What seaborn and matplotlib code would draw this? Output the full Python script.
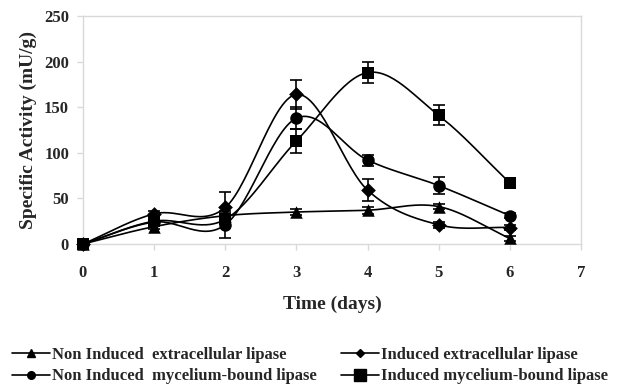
import numpy as np
import pandas as pd
import matplotlib
matplotlib.use("Agg")
import matplotlib.pyplot as plt
import seaborn as sns
from matplotlib.lines import Line2D

days = [0, 1, 2, 3, 4, 5, 6]
non_ind_extra = [0, 19, 31, 35, 37, 41, 6]
non_ind_extra_err = [0, 3, 3, 3, 4, 3, 3]
ind_extra = [0, 33, 40, 164, 59, 21, 18]
ind_extra_err = [0, 3, 17, 16, 12, 3, 3]
non_ind_myc = [0, 24, 21, 138, 92, 64, 31]
non_ind_myc_err = [0, 3, 15, 12, 6, 9, 3]
ind_myc = [0, 25, 27, 113, 188, 141, 67]
ind_myc_err = [0, 3, 3, 13, 12, 11, 3]

series_names = ["Non Induced  extracellular lipase", "Induced extracellular lipase",
                "Non Induced  mycelium-bound lipase", "Induced mycelium-bound lipase"]
x_ticks = [0, 1, 2, 3, 4, 5, 6, 7]
y_ticks = [0, 50, 100, 150, 200, 250]

sns.set_theme(style="white")
plt.rcParams['font.family'] = ['Liberation Serif', 'DejaVu Serif']
plt.rcParams['font.weight'] = 'bold'

fig = plt.figure(figsize=(6.17, 3.86), dpi=100)
ax = fig.add_axes([0.1345, 0.368, 0.8072, 0.5905])


def smooth(x, y, n=30):
    # Catmull-Rom style smoothing like spreadsheet "smoothed line"
    x = np.asarray(x, float); y = np.asarray(y, float)
    P = np.column_stack([x, y])
    P = np.vstack([P[0] - (P[1] - P[0]), P, P[-1] + (P[-1] - P[-2])])
    out = []
    for i in range(1, len(P) - 2):
        p0, p1, p2, p3 = P[i - 1], P[i], P[i + 1], P[i + 2]
        t = np.linspace(0, 1, n, endpoint=False)[:, None]
        m1 = (p2 - p0) / 2
        m2 = (p3 - p1) / 2
        h00 = 2 * t**3 - 3 * t**2 + 1
        h10 = t**3 - 2 * t**2 + t
        h01 = -2 * t**3 + 3 * t**2
        h11 = t**3 - t**2
        out.append(h00 * p1 + h10 * m1 + h01 * p2 + h11 * m2)
    out.append(P[-2][None, :])
    o = np.vstack(out)
    return o[:, 0], o[:, 1]


# (values, errors, marker, plot size, legend size)
data = [(non_ind_extra, non_ind_extra_err, "^", 9, 6),
        (ind_extra, ind_extra_err, "D", 7.5, 4.5),
        (non_ind_myc, non_ind_myc_err, "o", 9, 5.5),
        (ind_myc, ind_myc_err, "s", 8.5, 8)]

for (vals, errs, mk, ms, _), name in zip(data, series_names):
    sx, sy = smooth(days, vals)
    ax.plot(sx, sy, color="black", lw=1.2, zorder=2, clip_on=False)
    ax.errorbar(days, vals, yerr=errs, fmt="none", ecolor="black", elinewidth=1.2,
                capsize=4, capthick=1.2, zorder=3, clip_on=False)
    df = pd.DataFrame({"day": days, "val": vals})
    sns.scatterplot(data=df, x="day", y="val", marker=mk, s=ms**2, color="black",
                    edgecolor="black", linewidth=0, ax=ax, zorder=4, legend=False,
                    clip_on=False)

ax.set_xlim(0, 7)
ax.set_ylim(0, 250)
ax.set_xticks(x_ticks)
ax.set_yticks(y_ticks)
ax.set_xticklabels([str(t) for t in x_ticks], fontsize=12, fontweight='bold')
ax.set_yticklabels([str(t) for t in y_ticks], fontsize=12, fontweight='bold')
ax.set_xlabel("Time (days)", fontsize=14, fontweight='bold', labelpad=11)
ax.set_ylabel("Specific Activity (mU/g)", fontsize=14, fontweight='bold', labelpad=5)
for s in ax.spines.values():
    s.set_color("#d9d9d9")
    s.set_linewidth(1.0)
ax.tick_params(axis='x', which='both', bottom=True, length=4, width=1, color="#d9d9d9", pad=11)
ax.tick_params(axis='y', which='both', left=True, length=4, width=1, color="#d9d9d9", pad=6)

handles = [Line2D([], [], color="black", lw=1.2, marker=m, markersize=ls)
           for (_, _, m, _, ls) in data]
order = [0, 2, 1, 3]
leg = fig.legend([handles[i] for i in order], [series_names[i] for i in order],
                 loc="lower left", bbox_to_anchor=(0.008, -0.013),
                 ncol=2, frameon=False, handlelength=2.3, handletextpad=0.15,
                 columnspacing=1.4, labelspacing=0.32, borderaxespad=0.0,
                 prop={'weight': 'bold', 'size': 12})

fig.savefig("out.png", dpi=100)
